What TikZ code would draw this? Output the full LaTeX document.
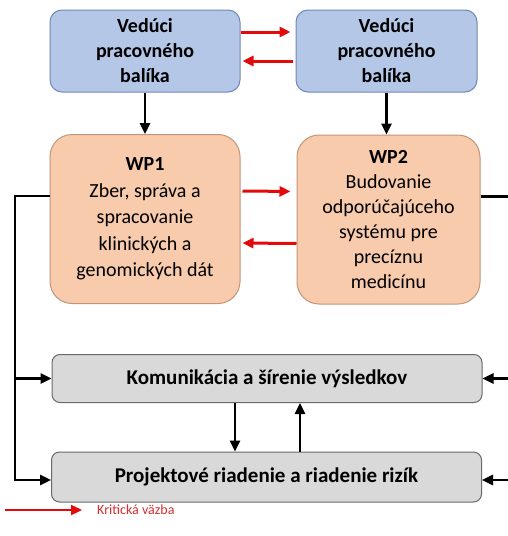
\documentclass[tikz,border=0pt]{standalone}
\usepackage{fontspec}
\setmainfont{Carlito}
\usepackage{tikz}
\usetikzlibrary{arrows.meta, positioning}

\definecolor{leadfill}{RGB}{180,199,231}
\definecolor{leaddraw}{RGB}{112,136,182}
\definecolor{wpfill}{RGB}{248,203,173}
\definecolor{wpdraw}{RGB}{196,148,120}
\definecolor{mgmtfill}{RGB}{217,217,217}
\definecolor{mgmtdraw}{RGB}{105,105,105}
\definecolor{critred}{RGB}{228,10,10}
\definecolor{legendred}{RGB}{215,45,45}

\begin{document}
\begin{tikzpicture}[x=1pt, y=-1pt,
  leader/.style={rectangle, rounded corners=12pt, draw=leaddraw, fill=leadfill,
    line width=1pt, minimum width=190pt, minimum height=82pt, align=center,
    inner sep=2pt, font=\fontsize{20}{25}\selectfont\bfseries},
  %
  workpkg/.style={rectangle, rounded corners=22pt, draw=wpdraw, fill=wpfill,
    line width=1pt, minimum width=190pt, minimum height=169pt, align=center,
    inner sep=2pt, font=\fontsize{20}{26.5}\selectfont},
  %
  mgmt/.style={rectangle, rounded corners=8pt, draw=mgmtdraw, fill=mgmtfill,
    line width=1pt, minimum width=430pt, minimum height=48pt, align=center,
    inner sep=2pt, font=\fontsize{21}{24}\selectfont\bfseries},
  %
  crit/.style={-{Triangle[length=11pt, width=10pt]}, critred, line width=3pt},
  %
  flow/.style={-{Triangle[length=11pt, width=10pt]}, black, line width=2.5pt}
  ]

  \useasboundingbox (0,0) rectangle (507,536);

  \begin{scope}
    % vedúci pracovných balíkov
    \node [leader] (lead1) at (145,51) {Vedúci\\pracovného\\balíka};
    \node [leader, minimum width=181pt] (lead2) at (386.5,51) {Vedúci\\pracovného\\balíka};
    % pracovné balíky
    \node [workpkg] (wp1) at (145,219)
      {\textbf{WP1}\\Zber, správa a\\spracovanie\\klinických a\\genomických dát};
    \node [workpkg, minimum width=183pt, font=\fontsize{20}{25}\selectfont] (wp2) at (388.5,219.5)
      {\textbf{WP2}\\Budovanie\\odporúčajúceho\\systému pre\\precíznu\\medicínu};
    % spoločné aktivity
    \node [mgmt] (komun) at (267,378.5) {Komunikácia a šírenie výsledkov};
    \node [mgmt, minimum height=50pt] (riadenie) at (266.5,477)
      {Projektové riadenie a riadenie rizík};
  \end{scope}

  \begin{scope}
    \draw [crit, shorten >=5pt] ([yshift=19pt]lead1.east) -- ([yshift=19pt]lead2.west);
    \draw [crit, shorten <=3pt, shorten >=2pt] ([yshift=-10pt]lead2.west) -- ([yshift=-10pt]lead1.east);
    \draw [flow] (lead1.south) -- (lead1.south |- wp1.north);
    \draw [flow] (lead2.south) -- (lead2.south |- wp2.north);

    \draw [crit, shorten <=2pt, shorten >=6pt] ([yshift=28pt]wp1.east) -- ([yshift=28pt]wp2.west);
    \draw [crit, shorten >=2pt] ([yshift=-24pt]wp2.west) -- ([yshift=-24pt]wp1.east);

    % spätné väzby do riadenia
    \coordinate (lbus) at (15,196);
    \coordinate (rbus) at (514,196.5);
    \draw [flow] ([yshift=23pt]wp1.west) -- (lbus) |- ([yshift=-3pt]riadenie.west);
    \draw [flow] (lbus |- komun.west) -- (komun.west);
    \draw [flow] ([yshift=23pt]wp2.east) -- (rbus) |- ([yshift=-3pt]riadenie.east);
    \draw [flow] (rbus |- komun.east) -- (komun.east);

    \draw [flow] ([xshift=-32pt]komun.south) -- ([xshift=-31.5pt]riadenie.north);
    \draw [flow] ([xshift=33.5pt]riadenie.north) -- ([xshift=33pt]komun.south);
  \end{scope}

  % legenda
  \coordinate (legstart) at (5,510);
  \coordinate (legend) at (82,510);
  \draw [crit, line width=2.2pt] (legstart) -- (legend);
  \node [right=15pt of legend, text=legendred, font=\fontsize{14}{16}\selectfont,
    inner sep=0pt] (legtext) {Kritická väzba};

\end{tikzpicture}
\end{document}
